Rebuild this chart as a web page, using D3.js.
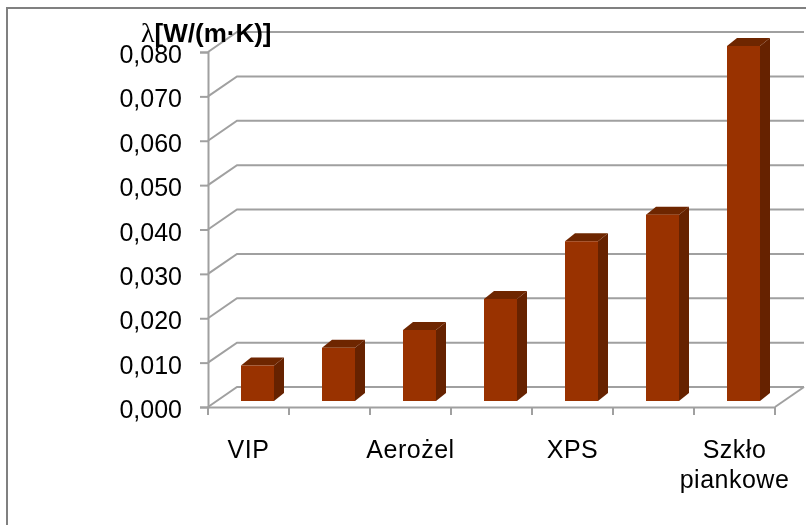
<!DOCTYPE html>
<html>
<head>
<meta charset="utf-8">
<script src="https://cdn.jsdelivr.net/npm/d3@7"></script>
<style>
  html, body { margin: 0; padding: 0; background: #fff; }
  svg { display: block; }
  text { font-family: "Liberation Sans", Arial, sans-serif; fill: #000; }
</style>
</head>
<body>
<svg id="chart" width="806" height="525"></svg>
<script>
// Values, only every second category name is printed
const categories = ["VIP", "", "Aerożel", "", "XPS", "", "Szkło piankowe"];
const values = [0.008, 0.012, 0.016, 0.023, 0.036, 0.042, 0.080];
const yTicks = [0, 0.01, 0.02, 0.03, 0.04, 0.05, 0.06, 0.07, 0.08];
const axisTitle = "[W/(m·K)]";

const root = d3.select("#chart");

// The reference is a slightly soft raster
root.append("filter")
    .attr("id", "soft")
    .attr("filterUnits", "userSpaceOnUse")
    .attr("x", 0).attr("y", 0)
    .attr("width", 806).attr("height", 525)
    .append("feGaussianBlur")
    .attr("stdDeviation", 0.5);

const svg = root.append("g").attr("filter", "url(#soft)");

// Chart frame
svg.append("path")
    .attr("d", "M7,525V8H806")
    .attr("fill", "none")
    .attr("stroke", "#808080")
    .attr("stroke-width", 2);

// Front plane of the 3D box
const plotLeft = 208, plotRight = 775, plotTop = 52, plotBottom = 407;
const depthX = 29, depthY = 20;   // wall offset
const barOffX = 9, barOffY = 6;   // bars stand part way into the floor
const barW = 33, sideX = 10, sideY = 8;

const x = d3.scaleBand().domain(d3.range(categories.length)).range([plotLeft, plotRight]);
const y = d3.scaleLinear().domain([0, 0.08]).range([plotBottom, plotTop]);

const gridColor = "#a0a0a0";

// Back wall lines and their slanted links to the axis
yTicks.forEach(t => {
    svg.append("path")
        .attr("d", d3.line()([[plotLeft, y(t)], [plotLeft + depthX, y(t) - depthY], [plotRight + depthX, y(t) - depthY]]))
        .attr("fill", "none")
        .attr("stroke", gridColor)
        .attr("stroke-width", 2);
});

// Floor edge on the right
svg.append("line")
    .attr("x1", plotRight).attr("y1", plotBottom)
    .attr("x2", plotRight + depthX).attr("y2", plotBottom - depthY)
    .attr("stroke", gridColor)
    .attr("stroke-width", 2);

// Y axis
const yAxis = svg.append("g")
    .attr("transform", "translate(" + plotLeft + ",0)")
    .call(d3.axisLeft(y).tickValues(yTicks).tickSize(8).tickPadding(18)
        .tickFormat(d => d3.format(".3f")(d).replace(".", ",")));
yAxis.selectAll("text").style("font-size", "25px").attr("dy", "0.42em");

// X axis
const xAxis = svg.append("g")
    .attr("transform", "translate(0," + plotBottom + ")")
    .call(d3.axisBottom(x).tickValues([]).tickSizeOuter(0));
xAxis.selectAll(".xtick")
    .data(d3.range(categories.length + 1))
    .enter().append("line")
    .attr("class", "xtick")
    .attr("x1", i => plotLeft + i * x.step())
    .attr("x2", i => plotLeft + i * x.step())
    .attr("y1", 0)
    .attr("y2", 8);

svg.selectAll(".domain, .tick line, .xtick")
    .attr("stroke", gridColor)
    .attr("stroke-width", 2);

// Bars
const bars = svg.selectAll(".bar")
    .data(values)
    .enter().append("g")
    .attr("class", "bar")
    .attr("transform", (d, i) => "translate(" + (x(i) + (x.step() - barW) / 2 + barOffX) + "," + (-barOffY) + ")");

bars.append("path") // side
    .attr("d", d => d3.line()([[barW, y(d)], [barW + sideX, y(d) - sideY], [barW + sideX, plotBottom - sideY], [barW, plotBottom]]) + "Z")
    .attr("fill", "#662200");

bars.append("path") // top
    .attr("d", d => d3.line()([[0, y(d)], [sideX, y(d) - sideY], [barW + sideX, y(d) - sideY], [barW, y(d)]]) + "Z")
    .attr("fill", "#6e2600");

bars.append("rect") // front
    .attr("x", 0)
    .attr("y", d => y(d))
    .attr("width", barW)
    .attr("height", d => plotBottom - y(d))
    .attr("fill", "#993300");

// Category labels
const labelGroup = svg.selectAll(".cat-label")
    .data(categories)
    .enter().append("text")
    .attr("class", "cat-label")
    .attr("text-anchor", "middle")
    .style("font-size", "25px")
    .style("letter-spacing", "0.5px");

labelGroup.each(function(d, i) {
    d3.select(this).selectAll("tspan")
        .data(d.split(" "))
        .enter().append("tspan")
        .attr("x", x(i) + x.step() / 2)
        .attr("y", (w, j) => 458 + j * 30)
        .text(w => w);
});

// Axis title
const title = svg.append("text")
    .attr("x", 141)
    .attr("y", 42);
title.append("tspan")
    .style("font-family", "'Liberation Serif', serif")
    .style("font-size", "28px")
    .text("λ");
title.append("tspan")
    .style("font-weight", "bold")
    .style("font-size", "26px")
    .text(axisTitle);
</script>
</body>
</html>
